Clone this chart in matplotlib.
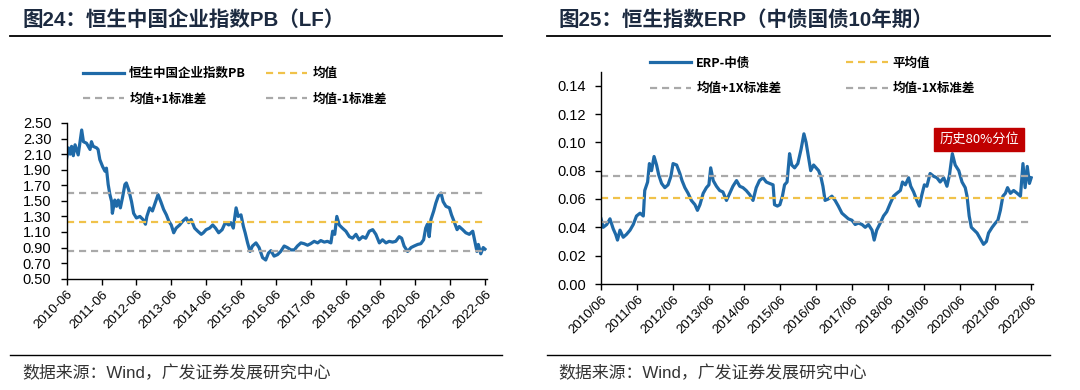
import matplotlib
matplotlib.use('Agg')
import matplotlib.pyplot as plt
from matplotlib.lines import Line2D

plt.rcParams['font.family'] = ['Liberation Sans', 'Noto Sans CJK SC', 'DejaVu Sans']

# 左图：恒生中国企业指数PB（LF）
pb_year = [2010.50, 2010.55, 2010.60, 2010.64, 2010.69, 2010.74, 2010.83, 2010.93, 2010.98, 2011.07,
           2011.17, 2011.21, 2011.26, 2011.36, 2011.40, 2011.45, 2011.53, 2011.60, 2011.64, 2011.69,
           2011.74, 2011.79, 2011.81, 2011.88, 2011.93, 2011.98, 2012.04, 2012.10, 2012.17, 2012.21,
           2012.28, 2012.36, 2012.42, 2012.50, 2012.60, 2012.69, 2012.76, 2012.80, 2012.88, 2012.96,
           2013.02, 2013.12, 2013.20, 2013.28, 2013.36, 2013.43, 2013.50, 2013.57, 2013.64, 2013.74,
           2013.83, 2013.93, 2014.00, 2014.07, 2014.17, 2014.26, 2014.36, 2014.42, 2014.50, 2014.60,
           2014.69, 2014.77, 2014.86, 2014.96, 2015.05, 2015.15, 2015.21, 2015.28, 2015.36, 2015.42,
           2015.50, 2015.57, 2015.62, 2015.69, 2015.76, 2015.83, 2015.93, 2016.02, 2016.12, 2016.21,
           2016.29, 2016.36, 2016.45, 2016.55, 2016.64, 2016.74, 2016.83, 2016.93, 2017.03, 2017.12,
           2017.22, 2017.31, 2017.41, 2017.50, 2017.60, 2017.70, 2017.79, 2017.89, 2017.98, 2018.08,
           2018.13, 2018.19, 2018.25, 2018.32, 2018.41, 2018.51, 2018.61, 2018.70, 2018.80, 2018.89,
           2018.99, 2019.08, 2019.18, 2019.28, 2019.37, 2019.47, 2019.56, 2019.66, 2019.75, 2019.85,
           2019.94, 2020.04, 2020.11, 2020.18, 2020.28, 2020.38, 2020.47, 2020.57, 2020.66, 2020.74,
           2020.80, 2020.85, 2020.90, 2020.95, 2021.03, 2021.09, 2021.16, 2021.24, 2021.30, 2021.38,
           2021.48, 2021.54, 2021.61, 2021.70, 2021.76, 2021.86, 2021.95, 2022.05, 2022.15, 2022.21,
           2022.27, 2022.31, 2022.38, 2022.45, 2022.50]
pb_value = [2.05, 2.18, 2.10, 2.20, 2.08, 2.22, 2.09, 2.41, 2.26, 2.24,
            2.16, 2.26, 2.20, 2.18, 2.16, 2.03, 1.94, 1.88, 1.92, 1.71,
            1.58, 1.49, 1.34, 1.51, 1.43, 1.51, 1.41, 1.54, 1.71, 1.73,
            1.64, 1.49, 1.34, 1.28, 1.30, 1.26, 1.20, 1.30, 1.41, 1.37,
            1.45, 1.58, 1.49, 1.39, 1.32, 1.24, 1.19, 1.09, 1.15, 1.19,
            1.24, 1.28, 1.22, 1.26, 1.15, 1.11, 1.07, 1.09, 1.13, 1.15,
            1.19, 1.15, 1.09, 1.13, 1.22, 1.19, 1.22, 1.15, 1.41, 1.30,
            1.32, 1.17, 1.09, 0.96, 0.85, 0.92, 0.96, 0.90, 0.77, 0.74,
            0.83, 0.86, 0.79, 0.81, 0.85, 0.92, 0.90, 0.87, 0.87, 0.92,
            0.96, 0.95, 0.93, 0.95, 0.98, 0.96, 0.99, 0.97, 0.98, 0.96,
            1.11, 1.07, 1.30, 1.19, 1.15, 1.11, 1.04, 1.02, 1.07, 1.00,
            1.04, 1.02, 1.11, 1.13, 1.07, 0.96, 1.00, 0.96, 0.98, 0.97,
            0.98, 1.04, 1.02, 0.92, 0.85, 0.90, 0.92, 0.94, 0.95, 1.00,
            1.15, 1.20, 1.04, 1.26, 1.37, 1.47, 1.56, 1.60, 1.49, 1.43,
            1.41, 1.32, 1.24, 1.13, 1.17, 1.13, 1.09, 1.07, 1.11, 0.98,
            0.85, 0.94, 0.82, 0.90, 0.88]
pb_mean, pb_up, pb_dn = 1.23, 1.60, 0.86

# 右图：恒生指数ERP（中债国债10年期）
erp_year = [2010.50, 2010.56, 2010.66, 2010.75, 2010.84, 2010.91, 2010.96, 2011.03, 2011.12, 2011.21,
            2011.31, 2011.40, 2011.49, 2011.59, 2011.68, 2011.72, 2011.80, 2011.85, 2011.91, 2011.98,
            2012.05, 2012.11, 2012.19, 2012.28, 2012.37, 2012.45, 2012.51, 2012.61, 2012.70, 2012.76,
            2012.84, 2012.93, 2013.02, 2013.12, 2013.19, 2013.26, 2013.35, 2013.44, 2013.51, 2013.56,
            2013.63, 2013.72, 2013.81, 2013.90, 2014.00, 2014.09, 2014.18, 2014.28, 2014.37, 2014.46,
            2014.55, 2014.65, 2014.74, 2014.83, 2014.92, 2015.02, 2015.11, 2015.20, 2015.30, 2015.34,
            2015.42, 2015.49, 2015.56, 2015.62, 2015.69, 2015.76, 2015.82, 2015.90, 2015.99, 2016.08,
            2016.16, 2016.22, 2016.29, 2016.35, 2016.43, 2016.50, 2016.57, 2016.63, 2016.69, 2016.75,
            2016.84, 2016.94, 2017.03, 2017.12, 2017.22, 2017.31, 2017.40, 2017.50, 2017.59, 2017.68,
            2017.78, 2017.87, 2017.96, 2018.06, 2018.12, 2018.19, 2018.29, 2018.38, 2018.47, 2018.57,
            2018.66, 2018.75, 2018.85, 2018.91, 2018.99, 2019.08, 2019.14, 2019.22, 2019.31, 2019.38,
            2019.45, 2019.52, 2019.59, 2019.68, 2019.78, 2019.87, 2019.96, 2020.06, 2020.15, 2020.22,
            2020.30, 2020.38, 2020.48, 2020.57, 2020.66, 2020.71, 2020.77, 2020.83, 2020.91, 2020.99,
            2021.08, 2021.17, 2021.25, 2021.31, 2021.41, 2021.50, 2021.57, 2021.64, 2021.71, 2021.78,
            2021.84, 2021.92, 2022.01, 2022.11, 2022.20, 2022.27, 2022.33, 2022.39, 2022.45, 2022.50]
erp_value = [0.046, 0.040, 0.042, 0.046, 0.039, 0.035, 0.031, 0.038, 0.033, 0.035,
             0.038, 0.042, 0.048, 0.050, 0.048, 0.066, 0.072, 0.085, 0.080, 0.090,
             0.084, 0.077, 0.071, 0.068, 0.070, 0.076, 0.085, 0.084, 0.078, 0.073,
             0.068, 0.064, 0.059, 0.056, 0.052, 0.056, 0.064, 0.068, 0.070, 0.082,
             0.073, 0.069, 0.066, 0.065, 0.059, 0.064, 0.069, 0.073, 0.069, 0.068,
             0.066, 0.063, 0.059, 0.068, 0.073, 0.075, 0.072, 0.071, 0.070, 0.056,
             0.055, 0.056, 0.062, 0.070, 0.072, 0.092, 0.084, 0.082, 0.085, 0.095,
             0.106, 0.100, 0.089, 0.080, 0.084, 0.082, 0.080, 0.076, 0.069, 0.059,
             0.060, 0.062, 0.059, 0.055, 0.050, 0.048, 0.046, 0.045, 0.042, 0.043,
             0.042, 0.040, 0.042, 0.038, 0.031, 0.038, 0.043, 0.048, 0.051, 0.057,
             0.062, 0.064, 0.066, 0.072, 0.070, 0.075, 0.069, 0.065, 0.059, 0.055,
             0.063, 0.070, 0.069, 0.078, 0.076, 0.075, 0.072, 0.075, 0.069, 0.077,
             0.092, 0.084, 0.080, 0.072, 0.068, 0.062, 0.048, 0.040, 0.038, 0.036,
             0.032, 0.028, 0.030, 0.036, 0.040, 0.043, 0.045, 0.052, 0.062, 0.064,
             0.068, 0.064, 0.066, 0.064, 0.062, 0.085, 0.068, 0.083, 0.071, 0.075]
erp_mean, erp_up, erp_dn = 0.0605, 0.0765, 0.044

tick_years = list(range(2010, 2023))
pb_ticklabels = [f'{y}-06' for y in tick_years]
erp_ticklabels = [f'{y}/06' for y in tick_years]

BLUE = '#1f6aa8'
YELLOW = '#f0c24a'
GREY = '#a9a9a9'
NAVY = '#1c2a40'

fig = plt.figure(figsize=(10.8, 3.9), dpi=100)

ax1 = fig.add_axes([66.7 / 1080, 1 - 278.7 / 390, 420 / 1080, 155.7 / 390])
ax2 = fig.add_axes([601 / 1080, 1 - 284 / 390, 432 / 1080, 212.5 / 390])

dash = (0, (3.2, 2.2))


def style_axis(ax, labels, fs):
    ax.set_xlim(2010.5, 2022.55)
    ax.set_xticks([y + 0.5 for y in tick_years])
    ax.set_xticklabels(labels, rotation=45, ha='right', rotation_mode='anchor', fontsize=fs)
    for s in ['top', 'right']:
        ax.spines[s].set_visible(False)
    for s in ['left', 'bottom']:
        ax.spines[s].set_linewidth(1.0)
        ax.spines[s].set_color('black')
    ax.tick_params(axis='both', direction='out', length=4, width=1.0, color='black')
    ax.tick_params(axis='x', pad=3)
    ax.tick_params(axis='y', pad=7)


# 左图
l1, = ax1.plot(pb_year, pb_value, color=BLUE, lw=2.3, label='恒生中国企业指数PB')
m1 = ax1.axhline(pb_mean, color=YELLOW, lw=1.6, ls=dash, label='均值')
u1 = ax1.axhline(pb_up, color=GREY, lw=1.6, ls=dash, label='均值+1标准差')
d1 = ax1.axhline(pb_dn, color=GREY, lw=1.6, ls=dash, label='均值-1标准差')
ax1.set_ylim(0.5, 2.5)
ax1.set_yticks([0.5 + 0.2 * i for i in range(11)])
ax1.set_yticklabels([f'{0.5 + 0.2 * i:.2f}' for i in range(11)], fontsize=10.5)
style_axis(ax1, pb_ticklabels, 9.5)

# 右图
l2, = ax2.plot(erp_year, erp_value, color=BLUE, lw=2.3, label='ERP-中债')
m2 = ax2.axhline(erp_mean, color=YELLOW, lw=1.6, ls=dash, label='平均值')
u2 = ax2.axhline(erp_up, color=GREY, lw=1.6, ls=dash, label='均值+1X标准差')
d2 = ax2.axhline(erp_dn, color=GREY, lw=1.6, ls=dash, label='均值-1X标准差')
ax2.set_ylim(0, 0.15)
ax2.set_yticks([0.02 * i for i in range(8)])
ax2.set_yticklabels([f'{0.02 * i:.2f}' for i in range(8)], fontsize=10.5)
style_axis(ax2, erp_ticklabels, 9.5)

ax2.text(2021.05, 0.102, '历史80%分位', color='white', fontsize=9.5, ha='center', va='center',
         family=['Noto Sans CJK SC', 'DejaVu Sans'],
         bbox=dict(boxstyle='square,pad=0.4', fc='#c00000', ec='#c00000'))

# 图例
leg_font = {'family': ['Noto Sans CJK SC'], 'size': 9, 'weight': 'bold'}
leg_kw = dict(ncol=2, frameon=False, handlelength=3.3, handletextpad=0.4,
              borderpad=0, borderaxespad=0, labelspacing=1.0, prop=leg_font)
fig.legend([l1, u1, m1, d1], ['恒生中国企业指数PB', '均值+1标准差', '均值', '均值-1标准差'],
           loc='upper left', bbox_to_anchor=(83 / 1080, 1 - 67 / 390), columnspacing=1.6, **leg_kw)
fig.legend([l2, u2, m2, d2], ['ERP-中债', '均值+1X标准差', '平均值', '均值-1X标准差'],
           loc='upper left', bbox_to_anchor=(650 / 1080, 1 - 56.5 / 390), columnspacing=5.2, **leg_kw)

# 标题、分隔线与来源
title_font = ['Liberation Sans', 'Noto Sans CJK SC']
fig.text(22 / 1080, 1 - 20 / 390, '图24：恒生中国企业指数PB（LF）', fontsize=14.8, fontweight='bold',
         color=NAVY, va='center', ha='left', family=title_font)
fig.text(558 / 1080, 1 - 20 / 390, '图25：恒生指数ERP（中债国债10年期）', fontsize=14.8, fontweight='bold',
         color=NAVY, va='center', ha='left', family=title_font)

for x0, x1 in [(10, 502), (547, 1050)]:
    fig.add_artist(Line2D([x0 / 1080, x1 / 1080], [1 - 36 / 390, 1 - 36 / 390], color='black', lw=1.3))
    fig.add_artist(Line2D([x0 / 1080, x1 / 1080], [1 - 355 / 390, 1 - 355 / 390], color='black', lw=1.0))

src = '数据来源：Wind，广发证券发展研究中心'
fig.text(22 / 1080, 1 - 373 / 390, src, fontsize=12.2, color='#333333', va='center', ha='left', family=title_font)
fig.text(558 / 1080, 1 - 373 / 390, src, fontsize=12.2, color='#333333', va='center', ha='left', family=title_font)

plt.savefig('out.png', dpi=100)
